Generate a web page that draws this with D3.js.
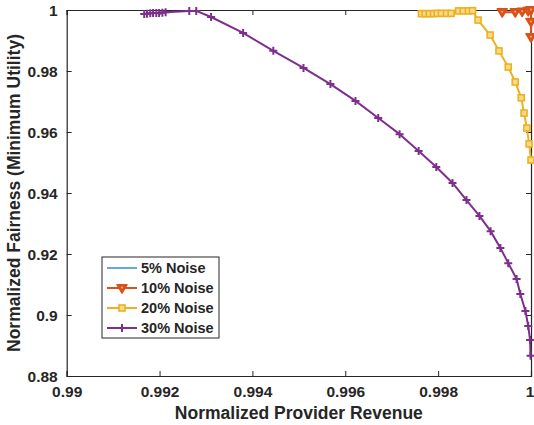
<!DOCTYPE html>
<html lang="en">
<head>
<meta charset="utf-8">
<title>Revenue vs fairness</title>
<script src="https://cdn.jsdelivr.net/npm/d3@7"></script>
<style>
  html, body { margin: 0; padding: 0; background: #fff; }
  svg text { font-family: "Liberation Sans", Arial, Helvetica, sans-serif; font-weight: bold; fill: #262626; }
</style>
</head>
<body>
<div id="chart"></div>
<script>
// --- data ---
const xTicks = [0.99, 0.992, 0.994, 0.996, 0.998, 1];
const yTicks = [0.88, 0.9, 0.92, 0.94, 0.96, 0.98, 1];
const seriesNames = ["5% Noise", "10% Noise", "20% Noise", "30% Noise"];

const revenue5 = [0.99997, 1.0];
const fairness5 = [1.0, 1.0];

const revenue10 = [0.99938, 0.99966, 0.99981, 0.99994, 1.0, 1.0, 1.0];
const fairness10 = [0.9993, 0.9993, 0.9995, 0.9997, 1.0, 0.9961, 0.9911];

const revenue20 = [0.99764, 0.99772, 0.99781, 0.99790, 0.99798, 0.99807, 0.99818, 0.99828,
                   0.99844, 0.99854, 0.99865, 0.99874, 0.99886, 0.99912, 0.99931, 0.99951,
                   0.99966, 0.99979, 0.99985, 0.99991, 0.99996, 1.0];
const fairness20 = [0.9988, 0.9988, 0.9988, 0.9988, 0.9989, 0.9989, 0.9989, 0.9989,
                    0.9997, 0.9997, 0.9997, 0.9998, 0.9967, 0.9918, 0.9866, 0.9813,
                    0.9764, 0.9712, 0.9662, 0.9613, 0.9561, 0.9508];

const revenue30 = [0.99167, 0.99173, 0.99180, 0.99186, 0.99193, 0.99199, 0.99206, 0.99213,
                   0.99264, 0.99279, 0.99311, 0.9938, 0.99445, 0.9951, 0.99568, 0.99622,
                   0.99671, 0.99717, 0.99758, 0.99796, 0.99831, 0.99861, 0.99889, 0.99913,
                   0.99934, 0.99951, 0.99969, 0.99977, 0.99988, 0.99994, 0.99998, 0.99999];
const fairness30 = [0.9987, 0.9988, 0.9989, 0.9990, 0.9990, 0.9990, 0.9991, 0.9993,
                    0.9997, 0.9997, 0.9977, 0.9925, 0.9866, 0.9810, 0.9757, 0.9702,
                    0.9646, 0.9593, 0.9538, 0.9485, 0.9433, 0.9377, 0.9325, 0.9275,
                    0.9220, 0.9170, 0.9118, 0.9069, 0.9013, 0.8964, 0.8918, 0.8866];

const W = 534, H = 425;
const margin = {left: 66.7, right: 3, top: 10, bottom: 49};

const x = d3.scaleLinear().domain([0.99, 1]).range([margin.left, W - margin.right]);
const y = d3.scaleLinear().domain([0.88, 1]).range([H - margin.bottom, margin.top]);

const svg = d3.select("#chart").append("svg")
    .attr("width", W).attr("height", H);

const axisColor = "#262626";

// axes: MATLAB style, ticks inside, box on
const xAxis = svg.append("g")
    .attr("transform", "translate(0," + y(0.88) + ")")
    .call(d3.axisBottom(x).tickValues(xTicks).tickSize(-5).tickPadding(10)
        .tickFormat(d => d3.format("~g")(d)));
const xTop = svg.append("g")
    .attr("transform", "translate(0," + y(1) + ")")
    .call(d3.axisTop(x).tickValues(xTicks).tickSize(-5).tickFormat(""));
const yAxis = svg.append("g")
    .attr("transform", "translate(" + x(0.99) + ",0)")
    .call(d3.axisLeft(y).tickValues(yTicks).tickSize(-5).tickPadding(9)
        .tickFormat(d => d3.format("~g")(d)));
const yRight = svg.append("g")
    .attr("transform", "translate(" + x(1) + ",0)")
    .call(d3.axisRight(y).tickValues(yTicks).tickSize(-5).tickFormat(""));

[xAxis, xTop, yAxis, yRight].forEach(g => {
  g.selectAll("path").attr("stroke", axisColor).attr("stroke-width", 1.2);
  g.selectAll("line").attr("stroke", axisColor).attr("stroke-width", 1);
  g.selectAll("text").style("font-size", "15.5px").attr("fill", axisColor);
});
yAxis.selectAll("text").attr("dy", "0.36em");
// keep the last x label "1" inside the window
xAxis.selectAll(".tick").filter(d => d === 1).select("text").attr("dx", "-1.5");

svg.append("text")
    .attr("x", (x(0.99) + x(1)) / 2).attr("y", 419)
    .attr("text-anchor", "middle").style("font-size", "17.5px")
    .text("Normalized Provider Revenue");

svg.append("text")
    .attr("transform", "translate(20," + (y(0.88) + y(1)) / 2 + ") rotate(-90)")
    .attr("text-anchor", "middle").style("font-size", "17.5px")
    .text("Normalized Fairness (Minimum Utility)");

// --- series ---
const series = [
  {name: seriesNames[0], xs: revenue5, ys: fairness5, color: "#0072BD", width: 1.2, marker: "none"},
  {name: seriesNames[1], xs: revenue10, ys: fairness10, color: "#D95319", width: 2, marker: "tri"},
  {name: seriesNames[2], xs: revenue20, ys: fairness20, color: "#EDB120", width: 2, marker: "square"},
  {name: seriesNames[3], xs: revenue30, ys: fairness30, color: "#7E2F8E", width: 2, marker: "plus"}
];

const line = d3.line().x(d => x(d[0])).y(d => y(d[1]));

function drawMarker(g, kind, color, cx, cy) {
  if (kind === "tri") {
    g.append("path")
      .attr("d", `M${cx - 5},${cy - 3.3} L${cx + 5},${cy - 3.3} L${cx},${cy + 5} Z`)
      .attr("fill", color).attr("stroke", color).attr("stroke-width", 1.5)
      .attr("stroke-linejoin", "round");
    g.append("circle").attr("cx", cx).attr("cy", cy - 0.5).attr("r", 0.9).attr("fill", "#f3b79c");
  } else if (kind === "square") {
    g.append("rect").attr("x", cx - 3).attr("y", cy - 3).attr("width", 6).attr("height", 6)
      .attr("fill", "#f7d98a").attr("stroke", color).attr("stroke-width", 1.6);
  } else if (kind === "plus") {
    g.append("path")
      .attr("d", `M${cx - 4},${cy} L${cx + 4},${cy} M${cx},${cy - 4} L${cx},${cy + 4}`)
      .attr("stroke", color).attr("stroke-width", 2);
  }
}

series.forEach(s => {
  const pts = s.xs.map((v, i) => [v, s.ys[i]]);
  const g = svg.append("g");
  g.append("path").datum(pts)
    .attr("d", line).attr("fill", "none")
    .attr("stroke", s.color).attr("stroke-width", s.width)
    .attr("stroke-linejoin", "round");
  pts.forEach(p => drawMarker(g, s.marker, s.color, x(p[0]), y(p[1])));
});

// --- legend ---
const lg = svg.append("g").attr("transform", "translate(102,257)");
lg.append("rect").attr("width", 117).attr("height", 81)
  .attr("fill", "#fff").attr("stroke", axisColor).attr("stroke-width", 1);
series.forEach((s, i) => {
  const ry = 11 + i * 20;
  lg.append("line").attr("x1", 5).attr("x2", 35).attr("y1", ry).attr("y2", ry)
    .attr("stroke", s.color).attr("stroke-width", s.width);
  drawMarker(lg, s.marker, s.color, 20, ry);
  lg.append("text").attr("x", 39).attr("y", ry).attr("dy", "0.36em")
    .style("font-size", "14.5px").text(s.name);
});
</script>
</body>
</html>
